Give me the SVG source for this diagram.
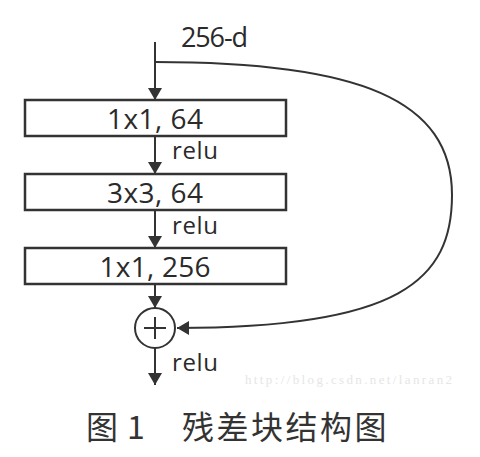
<svg xmlns="http://www.w3.org/2000/svg" width="480" height="457" viewBox="0 0 480 457">
<style>
.box{fill:#fff;stroke:#333;stroke-width:2.5}
.ln{fill:none;stroke:#333;stroke-width:2}
.lbl{font-family:"Open Sans","Noto Sans",sans-serif;fill:#2a2a2a}
.cap{font-family:"Noto Sans CJK SC","Noto Sans",sans-serif;fill:#333;font-size:32px}
</style>
<defs>
<marker id="ah" markerUnits="userSpaceOnUse" markerWidth="12" markerHeight="14" viewBox="0 0 12 14" refX="12" refY="7" orient="auto">
<path d="M0,0 L12,7 L0,14 z" fill="#333"/>
</marker>
</defs>
<rect width="480" height="457" fill="#fff"/>
<g id="connectors">
<path class="ln" d="M155,42 V100" marker-end="url(#ah)"/>
<path class="ln" d="M155,136 V174" marker-end="url(#ah)"/>
<path class="ln" d="M155,210 V248" marker-end="url(#ah)"/>
<path class="ln" d="M155,284 V308" marker-end="url(#ah)"/>
<path class="ln" d="M155,348 V385" marker-end="url(#ah)"/>
<path class="ln" d="M155,62 C360,62 452,100 452,195 C452,280 400,328 177,328" marker-end="url(#ah)"/>
</g>
<g id="input-label"><text class="lbl" x="181" y="47" font-size="27" textLength="67">256-d</text></g>
<g id="conv1">
<rect class="box" x="25" y="100" width="261" height="36"/>
<text class="lbl" x="155" y="129" font-size="28" text-anchor="middle" textLength="96">1x1, 64</text>
</g>
<g id="relu1"><text class="lbl" x="172" y="159" font-size="24" textLength="46">relu</text></g>
<g id="conv2">
<rect class="box" x="25" y="174" width="261" height="36"/>
<text class="lbl" x="155" y="203" font-size="28" text-anchor="middle" textLength="96">3x3, 64</text>
</g>
<g id="relu2"><text class="lbl" x="172" y="234" font-size="24" textLength="46">relu</text></g>
<g id="conv3">
<rect class="box" x="25" y="248" width="261" height="36"/>
<text class="lbl" x="155" y="277" font-size="28" text-anchor="middle" textLength="111">1x1, 256</text>
</g>
<g id="sum">
<circle cx="155" cy="328" r="20" fill="#fff" stroke="#333" stroke-width="2"/>
<path class="ln" d="M144,328 H166 M155,317 V339"/>
</g>
<g id="relu3"><text class="lbl" x="172" y="371" font-size="24" textLength="46">relu</text></g>
<text x="245" y="384" font-family="Liberation Serif,serif" font-size="13" fill="#e6e6e6" textLength="207">http://blog.csdn.net/lanran2</text>
<g id="caption">
<text class="cap" x="86" y="439">图</text>
<text class="cap" x="127" y="439">1</text>
<text class="cap" x="182" y="439" letter-spacing="2.5">残差块结构图</text>
</g>
</svg>
